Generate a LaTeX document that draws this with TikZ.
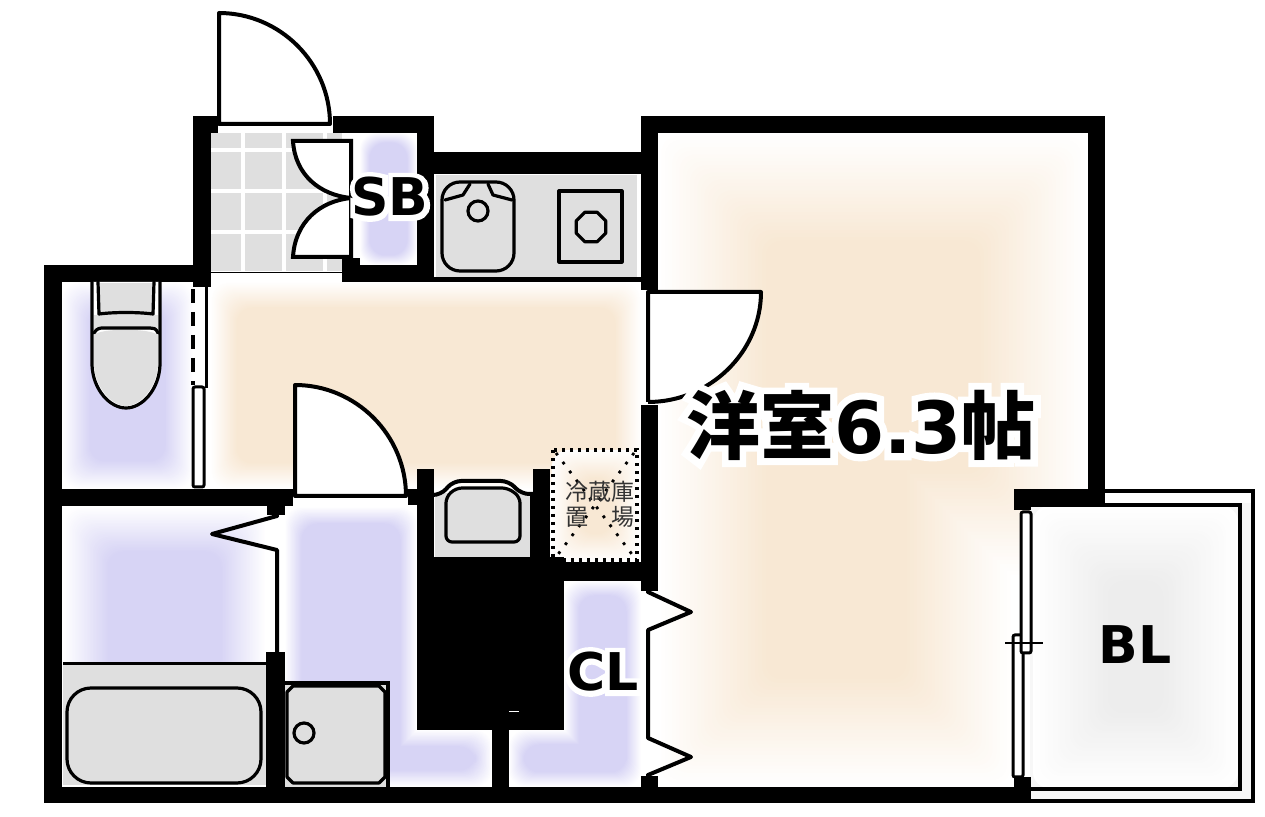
\documentclass[tikz,border=0pt]{standalone}
\usepackage{fontspec}
\setmainfont{Noto Sans CJK JP}
\newfontfamily\latb{DejaVu Sans Bold}
\newfontfamily\halolat[FakeBold=20]{DejaVu Sans Bold}
\newfontfamily\halocjk[FakeBold=20]{Noto Sans CJK JP Bold}
\definecolor{lav}{HTML}{D7D4F5}
\definecolor{pch}{HTML}{F8E8D4}
\definecolor{gry}{HTML}{DFDFDF}
\definecolor{bal}{HTML}{EDEDED}
\newcommand{\softone}[6]{%
  \foreach \i in {0,...,30}{%
    \pgfmathsetmacro\t{100*\i/30}\pgfmathsetmacro\d{#2*\i/30}%
    \fill[#1!\t!white,rounded corners=8] ({#3+\d},{#4+\d}) rectangle ({#5-\d},{#6-\d});}}
\newcommand{\softtwo}[2]{\def\softc{#1}\def\softd{#2}\softtwoii}
\newcommand{\softtwoii}[8]{%
  \foreach \i in {0,...,30}{%
    \pgfmathsetmacro\t{100*\i/30}\pgfmathsetmacro\d{\softd*\i/30}%
    \fill[\softc!\t!white,rounded corners=8] ({#1+\d},{#2+\d}) rectangle ({#3-\d},{#4-\d}) ({#5+\d},{#6+\d}) rectangle ({#7-\d},{#8-\d});}}
\tikzset{
  wall/.style={fill=black},
  ln/.style={draw=black,line width=1.6pt,line join=round,line cap=round},
  door/.style={draw=black,fill=white,line width=2pt,line join=round},
  fix/.style={draw=black,fill=gry,line width=1.6pt,line join=round},
  lbl/.style={font=\fontsize{26}{26}\latb,text=black,inner sep=0pt},
  halo/.style={font=\fontsize{26}{26}\halolat,text=white,inner sep=0pt},
  fridgetxt/.style={font=\fontsize{11.5}{11.5}\selectfont,text=black!80,inner sep=0pt},
}
\begin{document}
\begin{tikzpicture}[x=0.5pt,y=-0.5pt]
\useasboundingbox (0,0) rectangle (1265,817);
% soft room tints
\softtwo{pch}{108}{658}{133}{1088}{578}{658}{300}{1014}{787}
\softone{pch}{26}{211}{282}{641}{489}
\softone{lav}{28}{62}{282}{193}{489}
\softone{lav}{45}{63}{507}{266}{720}
\softtwo{lav}{17}{285}{507}{417}{787}{285}{730}{492}{787}
\softone{lav}{10}{360}{133}{417}{265}
\softtwo{lav}{15}{564}{581}{641}{787}{509}{730}{641}{787}
\softone{pch}{28}{552}{450}{640}{562}
% balcony
\fill[black!3] (1030,503) rectangle (1255,803);
\softone{bal}{75}{1033}{506}{1238}{788}
\draw[line width=2pt] (1105,491) -- (1253,491) -- (1253,801) -- (1030,801);
\draw[line width=2pt] (1030,505) -- (1240,505) -- (1240,789) -- (1030,789);
% tiles
\fill[white] (211,133) rectangle (342,273);
\foreach \xa/\xb in {211/241,245/282,286/323,327/342}
  \foreach \ya/\yb in {133/148,152/189,193/230,234/271}
    \fill[gry] (\xa,\ya) rectangle (\xb,\yb);
\draw[line width=.5pt] (211,273) -- (342,273);
% kitchen counter, bath, basin, washer pan grey
\fill[gry] (436,175) rectangle (637,277);
\fill[gry] (63,665) rectangle (266,785);
\fill[gry] (285,684) rectangle (388,787);
\fill[gry] (435,493) rectangle (530,557);
\fill[white] (342,133) rectangle (360,258);
\fill[white] (641,591) rectangle (658,776);
% walls
\fill[wall] (193,116) rectangle (218,133);
\fill[wall] (193,116) rectangle (211,287);
\fill[wall] (44,265) rectangle (211,282);
\fill[wall] (44,265) rectangle (62,803);
\fill[wall] (44,787) rectangle (1030,803);
\fill[wall] (333,116) rectangle (434,133);
\fill[wall] (417,116) rectangle (434,282);
\fill[wall] (342,258) rectangle (360,282);
\fill[wall] (342,265) rectangle (434,282);
\fill[wall] (434,152) rectangle (641,174);
\fill[wall] (434,277) rectangle (641,282);
\fill[wall] (641,116) rectangle (1105,133);
\fill[wall] (641,116) rectangle (658,290);
\fill[wall] (1088,116) rectangle (1105,503);
\fill[wall] (1014,489) rectangle (1105,503);
\fill[wall] (1014,489) rectangle (1031,510);
\fill[wall] (1014,777) rectangle (1031,803);
\fill[wall] (641,405) rectangle (658,591);
\fill[wall] (641,776) rectangle (658,787);
\fill[wall] (44,489) rectangle (293,506);
\fill[wall] (267,506) rectangle (285,515);
\fill[wall] (408,489) rectangle (434,505);
\fill[wall] (417,469) rectangle (434,557);
\fill[wall] (533,469) rectangle (550,557);
\fill[wall] (530,493) rectangle (550,557);
\fill[wall] (417,557) rectangle (564,730);
\fill[wall] (550,562) rectangle (658,581);
\fill[wall] (492,730) rectangle (509,787);
\fill[wall] (266,652) rectangle (285,787);
\fill[white] (509,711.5) rectangle (519,712.5);
% entry door
\draw[door] (219,124) -- (219,13) .. controls (280,13) and (330,63) .. (330,124) -- cycle;
% shoe box doors
\draw[line width=2pt,fill=white] (351,141) -- (293,141) .. controls (295,175) and (320,195) .. (351,198) -- cycle;
\draw[line width=2pt,fill=white] (351,257) -- (293,257) .. controls (295,222) and (320,201) .. (351,198) -- cycle;
\draw[line width=2pt] (351,141) -- (351,257);
% room door
\draw[door] (648,402) -- (648,292) -- (761,292) .. controls (761,352) and (710,402) .. (648,402);
% hall door to wash room
\draw[door] (295,496) -- (295,385) .. controls (356,385) and (406,435) .. (406,496) -- cycle;
% toilet door
\draw[line width=2pt,dash pattern=on 7pt off 4.5pt] (193,289) -- (193,385);
\draw[line width=1.5pt] (206,287) -- (206,388);
\draw[line width=1.5pt,fill=white,rounded corners=1] (193,387) rectangle (204,487);
% toilet
\draw[ln,fill=white] (92,282) -- (92,365) .. controls (93,390) and (110,408) .. (126,408) .. controls (142,408) and (159,390) .. (160,365) -- (160,282);
\fill[gry] (94,283) rectangle (158,330);
\fill[gry] (94,335) .. controls (100,328) and (150,328) .. (158,335) -- (158,365) .. controls (157,388) and (140,406) .. (126,406) .. controls (112,406) and (95,388) .. (94,365) -- cycle;
\fill[white] (94,283) rectangle (97,315);
\fill[white] (155,283) rectangle (158,315);
\draw[ln] (98,282) -- (99,314) .. controls (115,312) and (137,312) .. (153,314) -- (154,282);
\draw[ln] (94,333) .. controls (97,328) and (100,328) .. (104,328) -- (150,328) .. controls (153,328) and (156,328) .. (158,333);
% kitchen sink and stove
\draw[fix,rounded corners=9] (442,271) rectangle (514,182);
\draw[ln] (445,200) -- (463,195) -- (470,184);
\draw[ln] (488,184) -- (493,195) -- (512,200);
\draw[ln] (478,211) circle[radius=10];
\draw[ln] (559,191) rectangle (622,262);
\draw[ln] (591,227) +(22.5:16) -- +(67.5:16) -- +(112.5:16) -- +(157.5:16) -- +(202.5:16) -- +(247.5:16) -- +(292.5:16) -- +(337.5:16) -- cycle;
% washer pan
\draw[line width=2pt,line join=round,rounded corners=4] (434,495) -- (441,495) -- (453,481) -- (509,481) -- (521,494) -- (533,494);
\draw[fix,rounded corners=3] (446,542) -- (446,497) -- (456,488) -- (508,488) -- (520,497) -- (520,542) -- cycle;
% fridge place
\draw[line width=1.7pt,dash pattern=on 1.7pt off 2.3pt] (553,450) rectangle (637,560);
\draw[line width=1.4pt,dash pattern=on 1.4pt off 4.2pt] (556,453) -- (634,557);
\draw[line width=1.4pt,dash pattern=on 1.4pt off 4.2pt] (634,453) -- (556,557);
\node[fridgetxt] (fridgea) at (600,492) {冷蔵庫};
\node[fridgetxt] (fridgeb) at (600,517) {置　場};
% closet doors
\draw[ln,line width=2pt] (648,592) -- (691,612) -- (648,630) -- (648,738) -- (691,757) -- (648,775);
% bath door and bath
\draw[ln,line width=2pt] (277,516) -- (212,534) -- (277,550) -- (277,652);
\fill[black] (63,662) rectangle (266,665.5);
\draw[fix,rounded corners=12] (67,688) rectangle (261,783);
\draw[line width=1.6pt] (285,683) -- (388,683) -- (388,787);
\draw[fix] (293,686) -- (379,686) -- (385,692) -- (385,777) -- (379,783) -- (293,783) -- (287,777) -- (287,692) -- cycle;
\draw[ln] (304,733) circle[radius=10];
% balcony windows
\draw[line width=1.5pt,fill=white,rounded corners=1] (1013,635) rectangle (1023,777);
\draw[line width=1.5pt,fill=white,rounded corners=1] (1021,512) rectangle (1031,653);
\draw[line width=1pt] (1005,643) -- (1043,643);
% labels
\node[halo] (sbh) at (390,197) {SB};
\node[lbl] (sb) at (390,197) {SB};
\node[halo] (clh) at (603,672) {CL};
\node[lbl] (cl) at (603,672) {CL};
\node[lbl] (bl) at (1135,645) {BL};
\node[halo,font=\fontsize{37}{37}\halocjk] (roomh) at (861,425) {洋室{\fontsize{36}{36}\halolat 6.3}帖};
\node[lbl,font=\fontsize{37}{37}\selectfont\bfseries] (room) at (861,425) {洋室{\fontsize{36}{36}\latb 6.3}帖};
\end{tikzpicture}
\end{document}
